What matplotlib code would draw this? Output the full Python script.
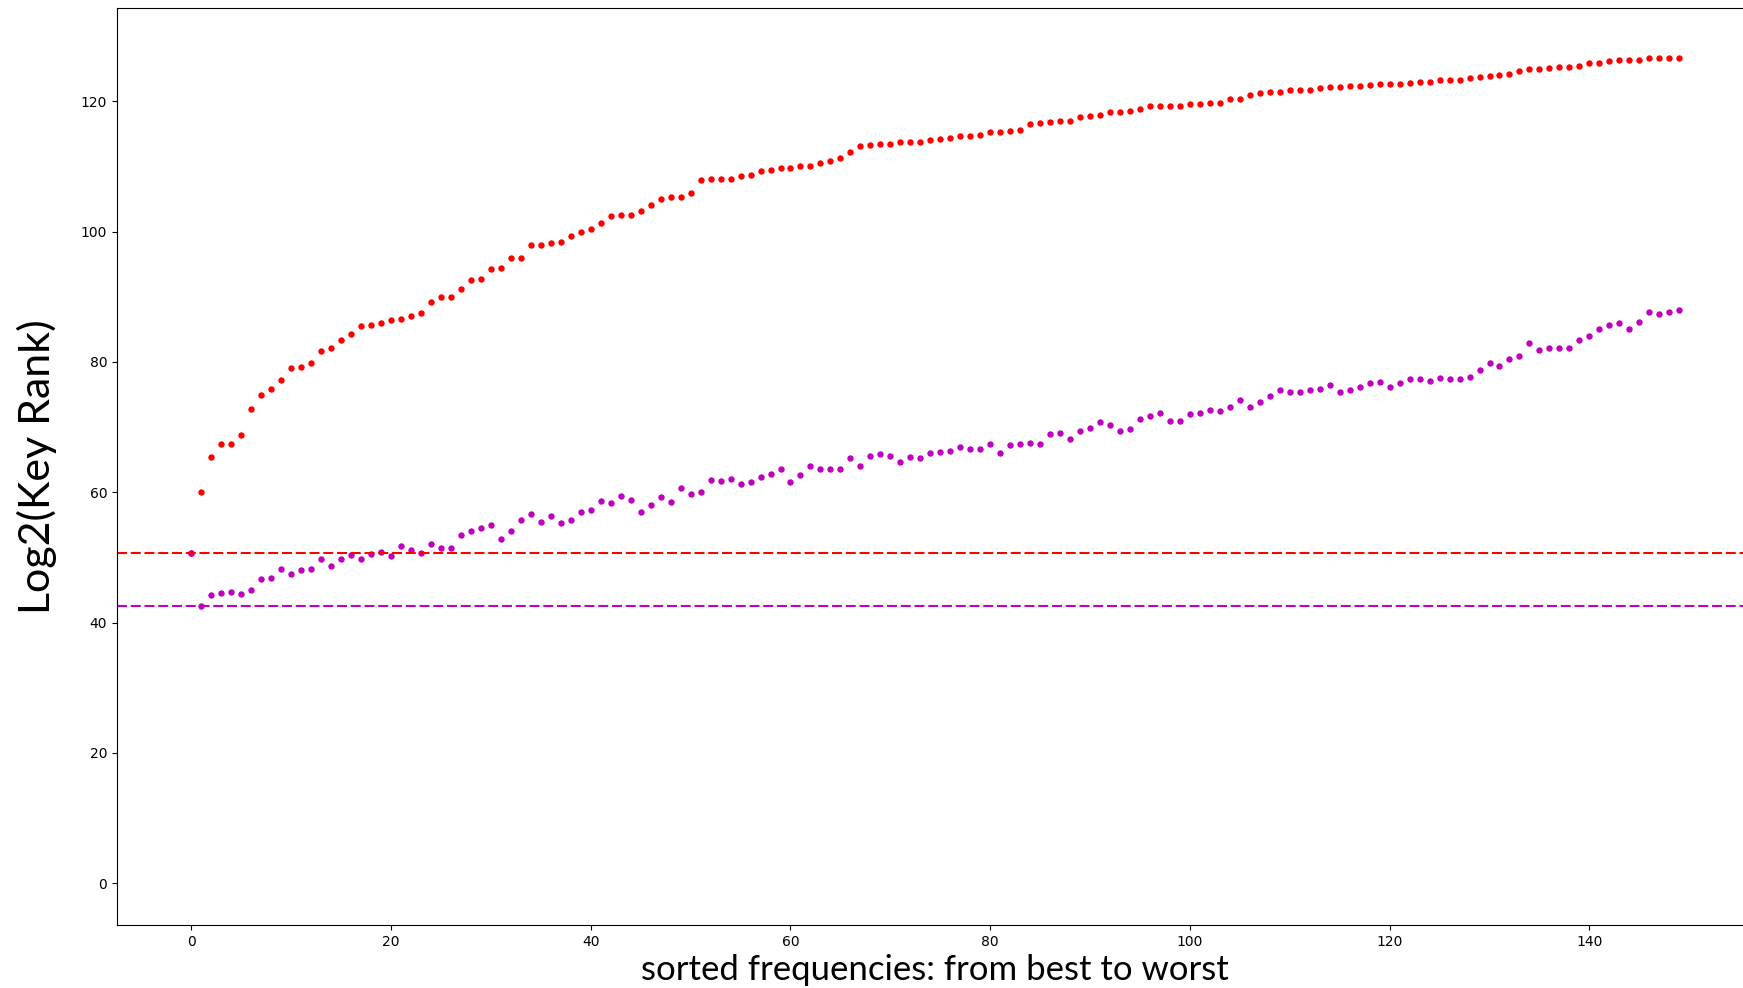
import numpy as np
import matplotlib
matplotlib.use("Agg")
import matplotlib.pyplot as plt

# 读取自参考图的数值
red_rank = [
    50.7, 60.1, 65.4, 67.4, 67.4, 68.8, 72.8, 74.9, 75.9, 77.3,
    79.1, 79.2, 79.9, 81.7, 82.2, 83.4, 84.3, 85.5, 85.7, 86.0,
    86.4, 86.6, 87.1, 87.5, 89.2, 89.9, 90.0, 91.2, 92.5, 92.7,
    94.2, 94.4, 95.9, 95.9, 97.9, 98.0, 98.2, 98.4, 99.3, 100.0,
    100.4, 101.3, 102.4, 102.5, 102.5, 103.2, 104.1, 105.0, 105.3, 105.3,
    106.0, 107.9, 108.0, 108.0, 108.1, 108.5, 108.7, 109.3, 109.5, 109.8,
    109.8, 110.0, 110.0, 110.5, 110.8, 111.3, 112.2, 113.2, 113.3, 113.4,
    113.4, 113.7, 113.8, 113.8, 114.1, 114.2, 114.3, 114.6, 114.6, 114.8,
    115.3, 115.3, 115.4, 115.6, 116.5, 116.6, 116.8, 117.0, 117.0, 117.6,
    117.8, 117.9, 118.3, 118.3, 118.5, 118.8, 119.2, 119.2, 119.3, 119.3,
    119.6, 119.6, 119.8, 119.8, 120.3, 120.3, 120.9, 121.3, 121.5, 121.5,
    121.7, 121.7, 121.7, 122.0, 122.2, 122.2, 122.3, 122.3, 122.5, 122.7,
    122.7, 122.7, 122.8, 123.0, 123.0, 123.2, 123.2, 123.3, 123.5, 123.8,
    123.9, 124.1, 124.2, 124.6, 125.0, 125.0, 125.1, 125.3, 125.3, 125.4,
    125.8, 125.8, 126.2, 126.3, 126.4, 126.4, 126.6, 126.6, 126.6, 126.7,
]

magenta_rank = [
    50.7, 42.5, 44.2, 44.5, 44.7, 44.4, 45.0, 46.7, 46.9, 48.2,
    47.5, 48.0, 48.3, 49.7, 48.7, 49.7, 50.4, 49.7, 50.5, 50.8,
    50.2, 51.8, 51.2, 50.7, 52.0, 51.5, 51.4, 53.5, 54.0, 54.5,
    55.0, 52.8, 54.0, 55.8, 56.7, 55.5, 56.3, 55.3, 55.7, 56.9,
    57.3, 58.6, 58.3, 59.5, 58.8, 57.0, 58.1, 59.2, 58.5, 60.6,
    59.8, 60.1, 61.9, 61.8, 62.1, 61.3, 61.5, 62.4, 62.8, 63.5,
    61.6, 62.6, 64.1, 63.6, 63.6, 63.6, 65.2, 64.1, 65.6, 65.9,
    65.6, 64.7, 65.4, 65.2, 66.1, 66.2, 66.4, 66.9, 66.7, 66.6,
    67.4, 66.1, 67.2, 67.4, 67.6, 67.4, 68.9, 69.1, 68.1, 69.4,
    69.9, 70.8, 70.4, 69.4, 69.7, 71.3, 71.7, 72.1, 70.9, 70.9,
    72.0, 72.2, 72.6, 72.4, 73.1, 74.1, 73.1, 73.9, 74.8, 75.7,
    75.4, 75.4, 75.7, 75.9, 76.4, 75.4, 75.7, 76.2, 76.7, 76.9,
    76.1, 76.7, 77.4, 77.4, 77.1, 77.6, 77.4, 77.4, 77.7, 78.7,
    79.9, 79.4, 80.4, 80.9, 82.9, 81.9, 82.1, 82.1, 82.2, 83.4,
    84.0, 85.0, 85.7, 85.9, 85.0, 86.2, 87.7, 87.4, 87.7, 88.0,
]

red_level = 50.7
magenta_level = 42.5


def main():
    x = np.arange(len(red_rank))

    fig = plt.figure(figsize=(17.43, 9.88), dpi=100)
    ax = fig.add_axes([0.0671, 0.0638, 0.939, 0.928])

    ax.plot(x, red_rank, 'o', color='red', markersize=4.6, markeredgewidth=0)
    ax.plot(x, magenta_rank, 'o', color='m', markersize=4.6, markeredgewidth=0)
    ax.axhline(red_level, color='red', linestyle='--', linewidth=1.5, dashes=(4.8, 1.8))
    ax.axhline(magenta_level, color='m', linestyle='--', linewidth=1.5, dashes=(4.8, 1.8))

    ax.set_xlim(-7.45, 156.45)
    ax.set_ylim(-6.4, 134.3)
    ax.set_xticks(np.arange(0, 141, 20))
    ax.set_yticks(np.arange(0, 121, 20))
    ax.tick_params(labelsize=10)

    ax.set_xlabel('sorted frequencies: from best to worst', fontsize=25, family='Lato')
    ax.set_ylabel('Log2(Key Rank)', fontsize=31, family='Lato', labelpad=17)

    fig.savefig('out.png', dpi=100)


if __name__ == "__main__":
    main()
